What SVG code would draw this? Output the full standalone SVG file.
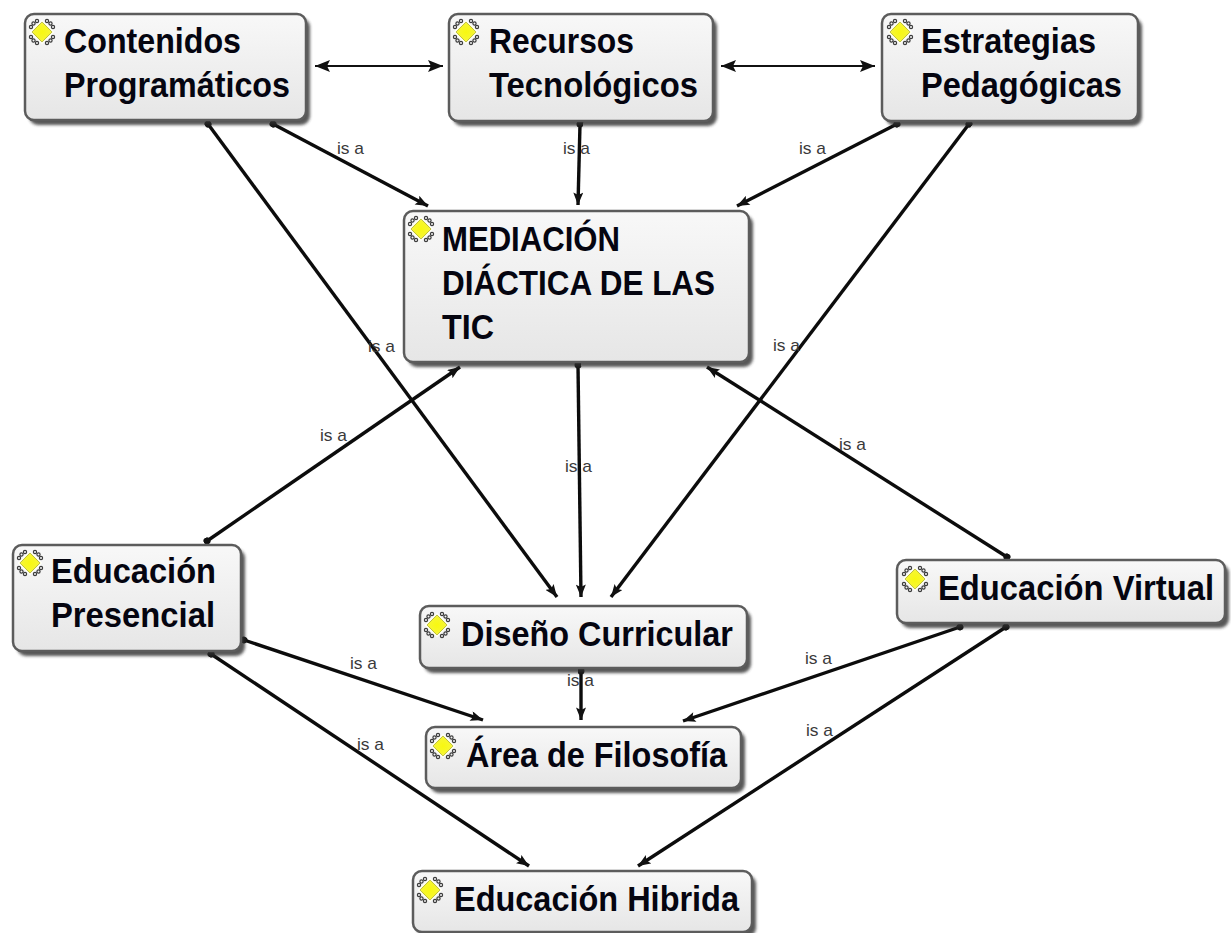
<svg xmlns="http://www.w3.org/2000/svg" width="1231" height="933" viewBox="0 0 1231 933">
<style>
.b{fill:url(#g);stroke:#5c5c5c;stroke-width:2.5}
.s{fill:#2e2e2e;opacity:.8;filter:url(#bl)}
.t{font-family:"Liberation Sans",Arial,sans-serif;font-weight:700;font-size:35px;fill:#050510}
.l{font-family:"Liberation Sans",Arial,sans-serif;font-size:17px;fill:#3a3a3a}
.c{stroke:#0c0c0c;stroke-width:3.4;fill:none;marker-end:url(#a);marker-start:url(#d)}
.h{stroke:#111;stroke-width:1.8;fill:none;marker-end:url(#ah);marker-start:url(#ahs)}
.k{fill:none;stroke:#3c3c3c;stroke-width:1.2}
</style>
<defs>
<linearGradient id="g" x1="0" y1="0" x2="0" y2="1"><stop offset="0" stop-color="#f8f8f8"/><stop offset="1" stop-color="#e6e6e6"/></linearGradient>
<radialGradient id="y"><stop offset="0" stop-color="#f8f810"/><stop offset=".7" stop-color="#f6f630"/><stop offset="1" stop-color="#fbfb9a"/></radialGradient>
<filter id="bl" x="-5%" y="-5%" width="110%" height="115%"><feGaussianBlur stdDeviation="1.5"/></filter>
<marker id="a" viewBox="0 0 10 8" refX="10" refY="4" markerWidth="13" markerHeight="10" markerUnits="userSpaceOnUse" orient="auto"><path d="M0 0L10 4L0 8L2 4Z" fill="#111"/></marker>
<marker id="d" viewBox="0 0 8 8" refX="4" refY="4" markerWidth="7" markerHeight="7" markerUnits="userSpaceOnUse" orient="auto"><circle cx="4" cy="4" r="4" fill="#111"/></marker>
<marker id="ah" viewBox="0 0 10 8" refX="10" refY="4" markerWidth="15" markerHeight="12" markerUnits="userSpaceOnUse" orient="auto"><path d="M0 0L10 4L0 8L2 4Z" fill="#111"/></marker>
<marker id="ahs" viewBox="0 0 10 8" refX="0" refY="4" markerWidth="15" markerHeight="12" markerUnits="userSpaceOnUse" orient="auto"><path d="M10 0L0 4L10 8L8 4Z" fill="#111"/></marker>
<g id="q"><circle class="k" cx="-5" cy="-11" r="1.6"/><circle class="k" cx="-8.5" cy="-8.5" r="1.6"/><circle class="k" cx="-11" cy="-5" r="1.6"/></g>
<g id="ic"><use href="#q"/><use href="#q" transform="scale(-1 1)"/><use href="#q" transform="scale(1 -1)"/><use href="#q" transform="scale(-1 -1)"/><path d="M0-11.5L11.5 0L0 11.5L-11.5 0Z" fill="url(#y)" stroke="#fff" stroke-width="1.2"/><path d="M0-10L10 0L0 10L-10 0Z" fill="none" stroke="#9a9a40" stroke-width=".6"/></g>
</defs>
<g id="connectors">
<path class="h" d="M315 66H443"/>
<path class="h" d="M721 66H875"/>
<path class="c" d="M273 124L428 206"/>
<path class="c" d="M580 124L578 205"/>
<path class="c" d="M897 124L737 206"/>
<path class="c" d="M208 124L557 597"/>
<path class="c" d="M969 124L611 597"/>
<path class="c" d="M578 365L581 597"/>
<path class="c" d="M207 541L460 367"/>
<path class="c" d="M1007 557L707 367"/>
<path class="c" d="M581 671V720"/>
<path class="c" d="M244 640L483 720"/>
<path class="c" d="M960 627L683 721"/>
<path class="c" d="M211 654L529 866"/>
<path class="c" d="M1006 627L638 866"/>
<text class="l" x="337" y="154" textLength="27" lengthAdjust="spacingAndGlyphs">is a</text>
<text class="l" x="563" y="154" textLength="27" lengthAdjust="spacingAndGlyphs">is a</text>
<text class="l" x="799" y="154" textLength="27" lengthAdjust="spacingAndGlyphs">is a</text>
<text class="l" x="368" y="352" textLength="27" lengthAdjust="spacingAndGlyphs">is a</text>
<text class="l" x="773" y="351" textLength="27" lengthAdjust="spacingAndGlyphs">is a</text>
<text class="l" x="320" y="441" textLength="27" lengthAdjust="spacingAndGlyphs">is a</text>
<text class="l" x="839" y="450" textLength="27" lengthAdjust="spacingAndGlyphs">is a</text>
<text class="l" x="565" y="472" textLength="27" lengthAdjust="spacingAndGlyphs">is a</text>
<text class="l" x="350" y="669" textLength="27" lengthAdjust="spacingAndGlyphs">is a</text>
<text class="l" x="567" y="686" textLength="27" lengthAdjust="spacingAndGlyphs">is a</text>
<text class="l" x="805" y="664" textLength="27" lengthAdjust="spacingAndGlyphs">is a</text>
<text class="l" x="357" y="750" textLength="27" lengthAdjust="spacingAndGlyphs">is a</text>
<text class="l" x="806" y="736" textLength="27" lengthAdjust="spacingAndGlyphs">is a</text>
</g>
<g id="contenidos"><rect class="s" x="29" y="18" width="281" height="107" rx="9"/><rect class="b" x="25" y="14" width="281" height="106" rx="9"/><use href="#ic" x="42" y="32"/><text class="t" x="64" y="53" textLength="177" lengthAdjust="spacingAndGlyphs">Contenidos</text><text class="t" x="64" y="97" textLength="226" lengthAdjust="spacingAndGlyphs">Programáticos</text></g>
<g id="recursos"><rect class="s" x="453" y="18" width="264" height="108" rx="9"/><rect class="b" x="449" y="14" width="264" height="107" rx="9"/><use href="#ic" x="466" y="32"/><text class="t" x="489" y="53" textLength="145" lengthAdjust="spacingAndGlyphs">Recursos</text><text class="t" x="489" y="97" textLength="209" lengthAdjust="spacingAndGlyphs">Tecnológicos</text></g>
<g id="estrategias"><rect class="s" x="886" y="18" width="256" height="108" rx="9"/><rect class="b" x="882" y="14" width="256" height="107" rx="9"/><use href="#ic" x="900" y="32"/><text class="t" x="921" y="53" textLength="175" lengthAdjust="spacingAndGlyphs">Estrategias</text><text class="t" x="921" y="97" textLength="201" lengthAdjust="spacingAndGlyphs">Pedagógicas</text></g>
<g id="mediacion"><rect class="s" x="408" y="215" width="345" height="152" rx="9"/><rect class="b" x="404" y="211" width="345" height="151" rx="9"/><use href="#ic" x="421" y="229"/><text class="t" x="442" y="251" textLength="178" lengthAdjust="spacingAndGlyphs">MEDIACIÓN</text><text class="t" x="442" y="295" textLength="273" lengthAdjust="spacingAndGlyphs">DIÁCTICA DE LAS</text><text class="t" x="442" y="339" textLength="52" lengthAdjust="spacingAndGlyphs">TIC</text></g>
<g id="presencial"><rect class="s" x="17" y="549" width="228" height="107" rx="9"/><rect class="b" x="13" y="545" width="228" height="106" rx="9"/><use href="#ic" x="30" y="563"/><text class="t" x="51" y="583" textLength="165" lengthAdjust="spacingAndGlyphs">Educación</text><text class="t" x="51" y="627" textLength="164" lengthAdjust="spacingAndGlyphs">Presencial</text></g>
<g id="virtual"><rect class="s" x="901" y="564" width="328" height="64" rx="9"/><rect class="b" x="897" y="560" width="328" height="63" rx="9"/><use href="#ic" x="915" y="579"/><text class="t" x="938" y="600" textLength="276" lengthAdjust="spacingAndGlyphs">Educación Virtual</text></g>
<g id="diseno"><rect class="s" x="424" y="610" width="327" height="63" rx="9"/><rect class="b" x="420" y="606" width="327" height="62" rx="9"/><use href="#ic" x="437" y="625"/><text class="t" x="461" y="646" textLength="272" lengthAdjust="spacingAndGlyphs">Diseño Curricular</text></g>
<g id="area"><rect class="s" x="430" y="731" width="315" height="62" rx="9"/><rect class="b" x="426" y="727" width="315" height="61" rx="9"/><use href="#ic" x="443" y="746"/><text class="t" x="466" y="767" textLength="261" lengthAdjust="spacingAndGlyphs">Área de Filosofía</text></g>
<g id="hibrida"><rect class="s" x="417" y="875" width="339" height="62" rx="9"/><rect class="b" x="413" y="871" width="339" height="61" rx="9"/><use href="#ic" x="430" y="890"/><text class="t" x="454" y="911" textLength="285" lengthAdjust="spacingAndGlyphs">Educación Hibrida</text></g>
</svg>
